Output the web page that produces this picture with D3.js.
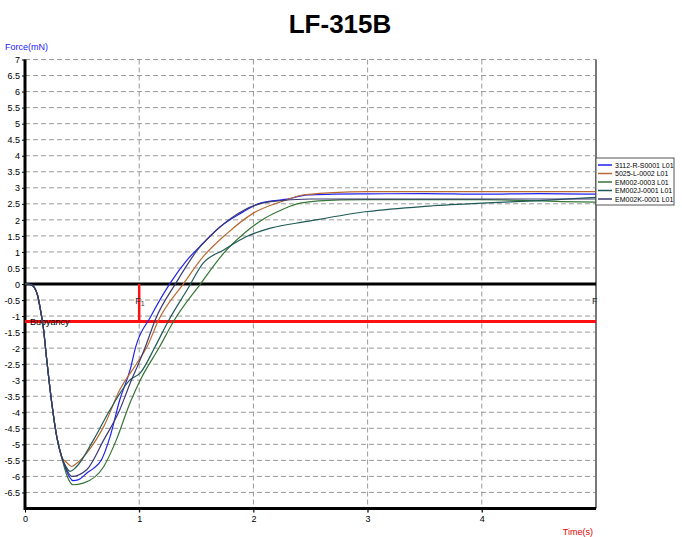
<!DOCTYPE html>
<html>
<head>
<meta charset="utf-8">
<script src="https://cdn.jsdelivr.net/npm/d3@7"></script>
<style>
  body { margin: 0; background: #fff; }
  svg { font-family: Arial, "Liberation Sans", sans-serif; }
</style>
</head>
<body>
<svg id="svg" width="682" height="537"></svg>
<script>
// series names + colours (legend order)
const names = ['3112-R-S0001 L01', '5025-L-0002 L01', 'EM002-0003 L01', 'EM002J-0001 L01', 'EM002K-0001 L01'];
const colors = ['#2020f0', '#b86a30', '#357535', '#1f5a58', '#3a3a70'];

// shared start of the dip
const startT = [0, 0.05, 0.08, 0.11, 0.14, 0.16, 0.19, 0.234, 0.278, 0.32];
const startF = [0, -0.02, -0.1, -0.35, -0.9, -1.35, -2.35, -3.7, -4.76, -5.38];

const blueT = [0.36, 0.42, 0.47, 0.54, 0.6, 0.67, 0.745, 0.83, 0.92, 0.97, 1.1, 1.27, 1.42, 1.56, 1.71, 1.89, 2.06, 2.32, 2.47, 2.7, 3, 3.5, 4, 4.5, 5];
const blueF = [-5.8, -6.13, -6.1, -5.9, -5.75, -5.48, -4.76, -3.61, -2.68, -1.95, -1.02, 0.02, 0.75, 1.27, 1.79, 2.21, 2.52, 2.66, 2.78, 2.8, 2.81, 2.82, 2.8, 2.82, 2.8];

const brownT = [0.36, 0.41, 0.45, 0.54, 0.69, 0.83, 0.98, 1.07, 1.17, 1.39, 1.56, 1.77, 2.0, 2.29, 2.41, 2.7, 3, 4, 5];
const brownF = [-5.55, -5.69, -5.6, -5.27, -4.44, -3.3, -2.47, -1.95, -1.12, 0.02, 0.85, 1.58, 2.21, 2.62, 2.76, 2.85, 2.88, 2.88, 2.88];

const greenT = [0.36, 0.42, 0.51, 0.69, 0.8, 0.92, 1.01, 1.18, 1.3, 1.54, 1.74, 1.92, 2.1, 2.24, 2.41, 2.76, 3, 4, 4.7, 5];
const greenF = [-5.9, -6.26, -6.21, -5.69, -4.86, -3.7, -2.99, -1.95, -1.17, 0.02, 0.96, 1.58, 2.05, 2.3, 2.52, 2.62, 2.63, 2.63, 2.57, 2.55];

const tealT = [0.36, 0.395, 0.45, 0.6, 0.745, 0.92, 1.01, 1.14, 1.26, 1.42, 1.56, 1.74, 1.94, 2.15, 2.47, 3, 3.5, 4, 4.5, 5];
const tealF = [-5.7, -5.84, -5.7, -4.86, -3.92, -2.99, -2.77, -1.95, -1.12, -0.18, 0.65, 1.06, 1.48, 1.74, 1.95, 2.26, 2.42, 2.52, 2.6, 2.7];

const navyT = [0.36, 0.41, 0.54, 0.69, 0.83, 0.92, 1.01, 1.06, 1.14, 1.32, 1.51, 1.68, 1.92, 2.15, 2.5, 3, 4, 5];
const navyF = [-5.75, -6.0, -5.79, -4.86, -3.92, -3.1, -2.35, -1.9, -1.12, 0.02, 1.06, 1.69, 2.31, 2.57, 2.65, 2.65, 2.65, 2.65];

const seriesT = [blueT, brownT, greenT, tealT, navyT];
const seriesF = [blueF, brownF, greenF, tealF, navyF];

const yTicks = d3.range(-6.5, 7.01, 0.5);
const xTicks = [0, 1, 2, 3, 4];
const buoyancy = -1.17;
const t1 = 1;

const svg = d3.select('#svg');
const x = d3.scaleLinear().domain([0, 5]).range([25, 596]);
const y = d3.scaleLinear().domain([-7, 7]).range([508.5, 59.5]);

// title
svg.append('text')
    .attr('x', 340)
    .attr('y', 33)
    .attr('text-anchor', 'middle')
    .style('font-size', '26px')
    .style('font-weight', 'bold')
    .text('LF-315B');

// grid
svg.append('g').selectAll('line').data(yTicks).join('line')
    .attr('x1', x(0)).attr('x2', x(5))
    .attr('y1', d => y(d)).attr('y2', d => y(d))
    .style('stroke', '#9a9a9a')
    .style('stroke-dasharray', '5,3');
svg.append('g').selectAll('line').data(xTicks.slice(1)).join('line')
    .attr('x1', d => x(d)).attr('x2', d => x(d))
    .attr('y1', y(7)).attr('y2', y(-7) + 4)
    .style('stroke', '#9a9a9a')
    .style('stroke-dasharray', '5,3');

// right border
svg.append('line')
    .attr('x1', x(5)).attr('x2', x(5))
    .attr('y1', y(7)).attr('y2', y(-7))
    .style('stroke', '#777').style('stroke-width', 2);

// axes
const yAxis = svg.append('g')
    .attr('transform', `translate(${x(0)},0)`)
    .call(d3.axisLeft(y).tickValues(yTicks).tickSize(3).tickFormat(d => String(d)));
yAxis.select('.domain').remove();
yAxis.selectAll('text').style('font-size', '9px').attr('x', -5).attr('dy', '0.35em');

const xAxis = svg.append('g')
    .attr('transform', `translate(0,${y(-7)})`)
    .call(d3.axisBottom(x).tickValues(xTicks).tickSize(4).tickFormat(d3.format('d')));
xAxis.select('.domain').remove();
xAxis.selectAll('text').style('font-size', '9px').attr('y', 7);

svg.append('line')
    .attr('x1', x(0)).attr('x2', x(0))
    .attr('y1', y(7)).attr('y2', y(-7) + 1.5)
    .style('stroke', '#000').style('stroke-width', 3);
svg.append('line')
    .attr('x1', x(0)).attr('x2', x(5))
    .attr('y1', y(-7)).attr('y2', y(-7))
    .style('stroke', '#000').style('stroke-width', 3);

// axis titles
svg.append('text')
    .attr('x', 5).attr('y', 50)
    .style('font-size', '9px').style('fill', '#1a1aff')
    .text('Force(mN)');
svg.append('text')
    .attr('x', 593).attr('y', 535)
    .attr('text-anchor', 'end')
    .style('font-size', '9px').style('fill', '#e00000')
    .text('Time(s)');

// zero line and buoyancy markers
svg.append('line')
    .attr('x1', x(0)).attr('x2', x(5))
    .attr('y1', y(0)).attr('y2', y(0))
    .style('stroke', '#000').style('stroke-width', 3);
svg.append('line')
    .attr('x1', x(0)).attr('x2', x(5))
    .attr('y1', y(buoyancy)).attr('y2', y(buoyancy))
    .style('stroke', '#ff1010').style('stroke-width', 3);
svg.append('line')
    .attr('x1', x(t1)).attr('x2', x(t1))
    .attr('y1', y(0)).attr('y2', y(buoyancy))
    .style('stroke', '#ff1010').style('stroke-width', 2.5);

svg.append('text')
    .attr('x', x(0) + 5).attr('y', y(buoyancy) + 3)
    .style('font-size', '9px')
    .text('Buoyancy');
const f1 = svg.append('text')
    .attr('x', x(t1) - 4).attr('y', y(-0.5) + 4)
    .style('font-size', '9px').style('fill', '#333');
f1.append('tspan').text('F');
f1.append('tspan').attr('dy', 2).style('font-size', '7px').text('1');
svg.append('text')
    .attr('x', x(5) - 4).attr('y', y(-0.5) + 4)
    .style('font-size', '9px').style('fill', '#333')
    .text('F');

// curves
const line = d3.line()
    .x(d => x(d[0]))
    .y(d => y(d[1]))
    .curve(d3.curveMonotoneX);

const curves = seriesT.map((ts, i) => {
    const pts = startT.map((t, j) => [t, startF[j]]);
    return pts.concat(ts.map((t, j) => [t, seriesF[i][j]]));
});

svg.append('g').selectAll('path').data(curves).join('path')
    .attr('d', line)
    .style('fill', 'none')
    .style('stroke', (d, i) => colors[i])
    .style('stroke-width', 1.2);

// legend
const lg = svg.append('g').attr('transform', 'translate(596,158)');
lg.append('rect')
    .attr('width', 78).attr('height', 47)
    .style('fill', '#fff').style('stroke', '#555').style('stroke-width', 1);
const row = lg.selectAll('g').data(names).join('g')
    .attr('transform', (d, i) => `translate(0,${7 + i * 8.5})`);
row.append('line')
    .attr('x1', 2).attr('x2', 16)
    .style('stroke', (d, i) => colors[i]).style('stroke-width', 1.5);
row.append('text')
    .attr('x', 19).attr('y', 2.5)
    .style('font-size', '7px')
    .text(d => d);
</script>
</body>
</html>
